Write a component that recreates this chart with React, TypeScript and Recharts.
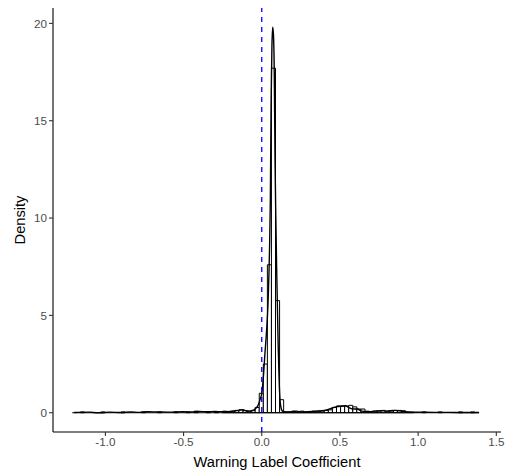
import React from 'react';
import { ComposedChart, Line, XAxis, YAxis, ReferenceArea, ReferenceLine } from 'recharts';

// Histogram definition (bin width and first left edge) and bin densities
const binWidth = 0.026;
const binStart = -1.212;
const binDensity = [
  0, 0, 0.04, 0, 0, 0, 0, 0.04, 0, 0,
  0, 0, 0.04, 0, 0, 0, 0, 0.04, 0, 0,
  0, 0.04, 0, 0, 0, 0.04, 0, 0, 0.04, 0,
  0.08, 0, 0, 0.04, 0, 0.04, 0, 0.08, 0.04, 0.08,
  0.12, 0.15, 0.1, 0.08, 0.12, 0.27, 1.0, 2.5, 7.6, 17.7,
  5.76, 0.67, 0.04, 0.04, 0.08, 0.04, 0.08, 0.04, 0.04, 0.08,
  0.08, 0.08, 0.12, 0.15, 0.27, 0.35, 0.35, 0.35, 0.38, 0.3,
  0.19, 0.19, 0.08, 0.04, 0.08, 0.08, 0.12, 0.08, 0.08, 0.12,
  0.12, 0.1, 0.04, 0.04, 0, 0, 0.04, 0, 0, 0,
  0.04, 0, 0, 0, 0, 0.04, 0, 0, 0.04, 0,
];

// Kernel density curve points
const densityX = [
  -1.2, -1.1, -1.05, -0.97, -0.9, -0.84, -0.78, -0.73, -0.67, -0.6,
  -0.5, -0.45, -0.4, -0.35, -0.3, -0.25, -0.2, -0.15, -0.12, -0.1,
  -0.08, -0.06, -0.04, -0.02, -0.01, 0, 0.01, 0.02, 0.03, 0.04,
  0.05, 0.055, 0.06, 0.065, 0.07, 0.075, 0.08, 0.085, 0.09, 0.095,
  0.1, 0.105, 0.11, 0.115, 0.12, 0.13, 0.14, 0.16, 0.2, 0.225,
  0.25, 0.3, 0.35, 0.4, 0.43, 0.46, 0.49, 0.51, 0.535, 0.555,
  0.58, 0.61, 0.64, 0.68, 0.72, 0.76, 0.8, 0.84, 0.88, 0.92,
  0.96, 1.0, 1.1, 1.2, 1.3, 1.39,
];
const densityY = [
  0.01, 0.03, 0.0, 0.03, 0.01, 0.04, 0.02, 0.05, 0.04, 0.03,
  0.05, 0.04, 0.06, 0.05, 0.06, 0.05, 0.07, 0.12, 0.15, 0.1,
  0.08, 0.1, 0.2, 0.45, 0.7, 1.0, 1.8, 3.0, 4.1, 5.6,
  8.5, 11, 16, 18.8, 19.8, 19.4, 17.5, 13, 10, 7.5,
  5.5, 3.5, 2.0, 0.9, 0.4, 0.1, 0.05, 0.04, 0.06, 0.08,
  0.04, 0.05, 0.08, 0.12, 0.18, 0.27, 0.32, 0.33, 0.36, 0.27,
  0.19, 0.19, 0.08, 0.05, 0.08, 0.11, 0.08, 0.12, 0.1, 0.05,
  0.02, 0.03, 0.02, 0.02, 0.01, 0.01,
];

const xTicks = [-1, -0.5, 0, 0.5, 1, 1.5];
const yTicks = [0, 5, 10, 15, 20];

const data = densityX.map((x, i) => ({ x, d: densityY[i] }));
const bins = binDensity.map((h, i) => ({
  x1: binStart + i * binWidth,
  x2: binStart + (i + 1) * binWidth,
  h,
}));
const binEnd = binStart + binDensity.length * binWidth;

const FONT = '"Liberation Sans", Arial, Helvetica, sans-serif';

export default function App() {
  return (
    <div style={{ position: 'absolute', left: 0, top: 0, width: 506, height: 472, background: '#fff' }}>
      <ComposedChart
        width={506}
        height={472}
        data={data}
        margin={{ top: 8, right: 5, bottom: 0, left: 0 }}
      >
        <XAxis
          type="number"
          dataKey="x"
          domain={[-1.335, 1.53]}
          ticks={xTicks}
          allowDataOverflow
          tickFormatter={(v: number) => v.toFixed(1)}
          height={40}
          tickSize={4}
          tickMargin={2}
          axisLine={{ stroke: '#000', strokeWidth: 1.1 }}
          tickLine={{ stroke: '#333', strokeWidth: 1.1 }}
          tick={{ fill: '#4d4d4d', fontSize: 11.7, fontFamily: FONT }}
          label={{
            value: 'Warning Label Coefficient',
            position: 'insideBottom',
            offset: 5,
            style: { fill: '#000', fontSize: 14.67, fontFamily: FONT },
          }}
        />
        <YAxis
          type="number"
          domain={[-0.99, 20.79]}
          ticks={yTicks}
          allowDataOverflow
          width={53}
          tickSize={4}
          tickMargin={2}
          axisLine={{ stroke: '#000', strokeWidth: 1.1 }}
          tickLine={{ stroke: '#333', strokeWidth: 1.1 }}
          tick={{ fill: '#4d4d4d', fontSize: 11.7, fontFamily: FONT }}
          label={{
            value: 'Density',
            angle: -90,
            position: 'insideLeft',
            offset: 20,
            style: { fill: '#000', fontSize: 14.67, fontFamily: FONT, textAnchor: 'middle' },
          }}
        />
        {bins.map((b, i) => (
          <ReferenceArea
            key={i}
            x1={b.x1}
            x2={b.x2}
            y1={0}
            y2={b.h}
            fill="#ffffff"
            fillOpacity={1}
            stroke="#000"
            strokeWidth={1}
            ifOverflow="visible"
          />
        ))}
        <ReferenceLine
          segment={[{ x: binStart, y: 0 }, { x: binEnd, y: 0 }]}
          stroke="#000"
          strokeWidth={1.1}
        />
        <Line
          type="monotone"
          dataKey="d"
          stroke="#000"
          strokeWidth={1.4}
          dot={false}
          isAnimationActive={false}
        />
        <ReferenceLine x={0} stroke="#0000ff" strokeWidth={1.3} strokeDasharray="5 5" />
      </ComposedChart>
    </div>
  );
}
